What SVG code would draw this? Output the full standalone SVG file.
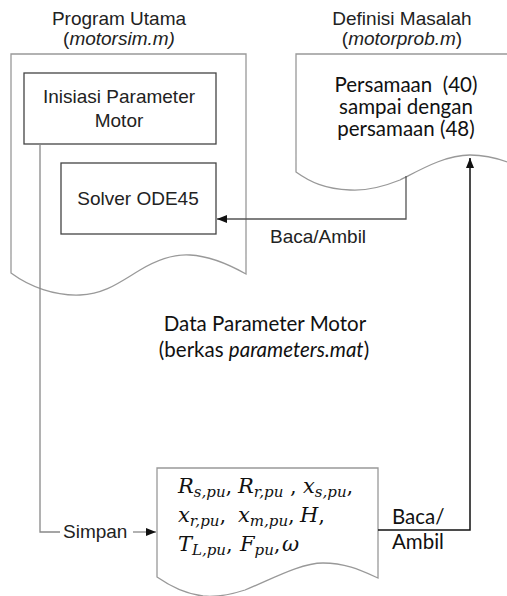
<svg xmlns="http://www.w3.org/2000/svg" width="507" height="596" viewBox="0 0 507 596">
<style>
.doc{fill:#fff;stroke:#999;stroke-width:1.3}
.box{fill:#fff;stroke:#444;stroke-width:1.3}
.sans{font-family:"Liberation Sans",Arial,sans-serif;font-size:19px;fill:#222}
.cal{font-family:Lato,"Open Sans",sans-serif;font-size:20.5px;fill:#111}
.math{font-family:"DejaVu Serif","Liberation Serif",serif;font-size:21px;fill:#111}
.it{font-style:italic}
.sub{font-size:15px;font-style:italic}
.gline{fill:none;stroke:#888;stroke-width:1.3}
.bline{fill:none;stroke:#111;stroke-width:1.5}
</style>
<defs>
<marker id="ah" markerUnits="userSpaceOnUse" markerWidth="11" markerHeight="8" refX="10" refY="4" orient="auto">
<path d="M0,0 L10,4 L0,8 z" fill="#111"/>
</marker>
</defs>
<rect width="507" height="596" fill="#fff"/>

<g id="program-utama">
<text class="sans" x="119" y="25" text-anchor="middle">Program Utama</text>
<text class="sans" x="119" y="45" text-anchor="middle">(<tspan class="it">motorsim.m)</tspan></text>
<path class="doc" d="M11,54 H246 V274 C230,265 210,256 190,255 C175,254 160,258 140,270 C120,282 105,294 80,295 C55,296 30,287 11,273 Z"/>
</g>

<g id="inisiasi">
<rect class="box" x="24" y="73" width="192" height="71"/>
<text class="sans" x="119" y="103" text-anchor="middle">Inisiasi Parameter</text>
<text class="sans" x="119" y="127" text-anchor="middle">Motor</text>
</g>

<g id="solver">
<rect class="box" x="61" y="163" width="155" height="71"/>
<text class="sans" x="138" y="205" text-anchor="middle">Solver ODE45</text>
</g>

<g id="definisi-masalah">
<text class="sans" x="402" y="25" text-anchor="middle">Definisi Masalah</text>
<text class="sans" x="402" y="45" text-anchor="middle">(<tspan class="it">motorprob.m</tspan>)</text>
<path class="doc" d="M531,54 V173 C515,164 495,155 470,155 C445,155 420,170 400,180 C380,188 365,191 350,190 C325,189 310,182 296,172 V54 Z"/>
<text class="cal" x="406" y="92" text-anchor="middle" xml:space="preserve">Persamaan  (40)</text>
<text class="cal" x="406" y="114" text-anchor="middle">sampai dengan</text>
<text class="cal" x="406" y="136" text-anchor="middle">persamaan (48)</text>
</g>

<g id="data-parameter">
<text class="cal" x="265" y="331" text-anchor="middle">Data Parameter Motor</text>
<text class="cal" x="264" y="357" text-anchor="middle">(berkas <tspan class="it">parameters.mat</tspan>)</text>
<path class="doc" d="M157,468 H378 V578 C360,570 345,563 323,563 C300,563 270,580 245,590 C230,595 215,597 203,596 C185,594 170,586 157,577 Z"/>
<text class="math" y="493"><tspan x="178" class="it">R</tspan><tspan class="sub" dy="4">s,pu</tspan><tspan dy="-4">,</tspan><tspan x="238" class="it">R</tspan><tspan class="sub" dy="4">r,pu</tspan><tspan dy="-4"> ,</tspan><tspan x="303" class="it">x</tspan><tspan class="sub" dy="4">s,pu</tspan><tspan dy="-4">,</tspan></text>
<text class="math" y="522"><tspan x="178" class="it">x</tspan><tspan class="sub" dy="4">r,pu</tspan><tspan dy="-4">,</tspan><tspan x="238" class="it">x</tspan><tspan class="sub" dy="4">m,pu</tspan><tspan dy="-4">,</tspan><tspan x="300" class="it">H</tspan><tspan>,</tspan></text>
<text class="math" y="551"><tspan x="178" class="it">T</tspan><tspan class="sub" dy="4">L,pu</tspan><tspan dy="-4">,</tspan><tspan x="240" class="it">F</tspan><tspan class="sub" dy="4">pu</tspan><tspan dy="-4">,</tspan><tspan x="282" class="it">ω</tspan></text>
</g>

<g id="connectors">
<polyline class="gline" points="40,144 40,532 60,532"/>
<line class="gline" x1="133" y1="532" x2="156" y2="532" marker-end="url(#ah)"/>
<text class="sans" x="63" y="538">Simpan</text>
<polyline class="gline" style="stroke:#555" points="406,176 406,219 217,219" marker-end="url(#ah)"/>
<text class="sans" x="270" y="243">Baca/Ambil</text>
<polyline class="bline" points="378,530 470,530 470,158" marker-end="url(#ah)"/>
<text class="cal" x="392" y="524">Baca/</text>
<text class="cal" x="392" y="549">Ambil</text>
</g>
</svg>
